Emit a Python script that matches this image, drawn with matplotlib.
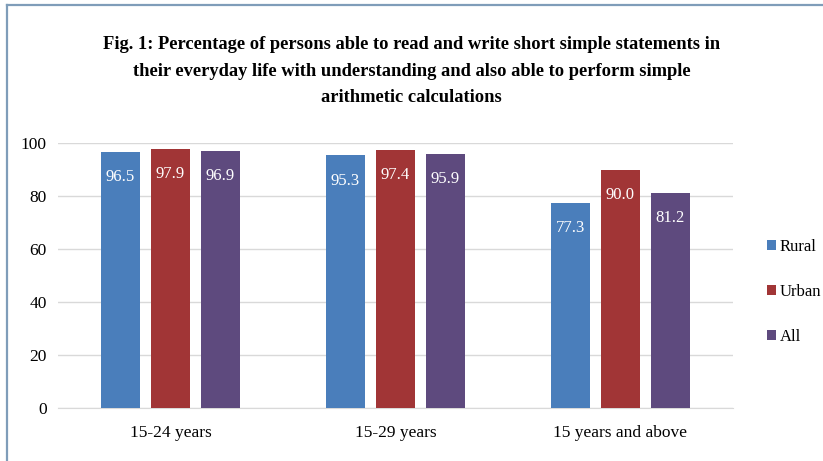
import matplotlib
matplotlib.use("Agg")
import matplotlib.pyplot as plt
from matplotlib.lines import Line2D
import numpy as np

categories = ["15-24 years", "15-29 years", "15 years and above"]
series_names = ["Rural", "Urban", "All"]
rural = [96.5, 95.3, 77.3]
urban = [97.9, 97.4, 90.0]
all_ = [96.9, 95.9, 81.2]
yticks = [0, 20, 40, 60, 80, 100]
colors = ["#4A7EBB", "#A13536", "#5E4A7E"]
title = ("Fig. 1: Percentage of persons able to read and write short simple statements in\n"
         "their everyday life with understanding and also able to perform simple\n"
         "arithmetic calculations")

plt.rcParams['font.family'] = ['Liberation Serif', 'DejaVu Serif']

W, H = 823, 461
fig = plt.figure(figsize=(W / 100, H / 100), dpi=100)
fig.patch.set_facecolor("white")
fig.lines.append(Line2D([6.5 / W, 1], [1 - 5 / H, 1 - 5 / H], transform=fig.transFigure,
                        color="#7F9DB9", linewidth=1.6))
fig.lines.append(Line2D([6.5 / W, 6.5 / W], [0, 1 - 5 / H], transform=fig.transFigure,
                        color="#7F9DB9", linewidth=1.6))

ax = fig.add_axes([58 / W, (H - 408) / H, (733 - 58) / W, (408 - 143) / H])
x = np.arange(len(categories))
bw = 0.173
step = 0.222
for i, (vals, name) in enumerate(zip([rural, urban, all_], series_names)):
    pos = x + (i - 1) * step
    ax.bar(pos, vals, width=bw, color=colors[i], label=name, zorder=3)
    for xp, v in zip(pos, vals):
        ax.text(xp, v - 9.5, f"{v:.1f}", ha="center", va="center", color="white",
                fontsize=12, zorder=4)

ax.set_xlim(-0.5, 2.5)
ax.set_ylim(0, 100)
ax.set_yticks(yticks)
ax.set_yticklabels([str(t) for t in yticks], fontsize=12.5)
ax.set_xticks(x)
ax.set_xticklabels(categories, fontsize=12.5)
ax.tick_params(length=0, pad=8)
ax.tick_params(axis="x", pad=12)
ax.grid(axis="y", color="#D9D9D9", linewidth=1, zorder=0)
for s in ["top", "right", "left"]:
    ax.spines[s].set_visible(False)
ax.spines["bottom"].set_color("#D9D9D9")

fig.text(0.5, 1 - 71 / H, title, ha="center", va="center", fontsize=13.3,
         fontweight="bold", linespacing=1.75)

fig.legend(loc="center left", bbox_to_anchor=(752 / W, 1 - 292 / H), frameon=False,
           fontsize=12, handlelength=0.55, handleheight=0.55, handletextpad=0.2,
           labelspacing=1.75)

fig.savefig("out.png", dpi=100)
